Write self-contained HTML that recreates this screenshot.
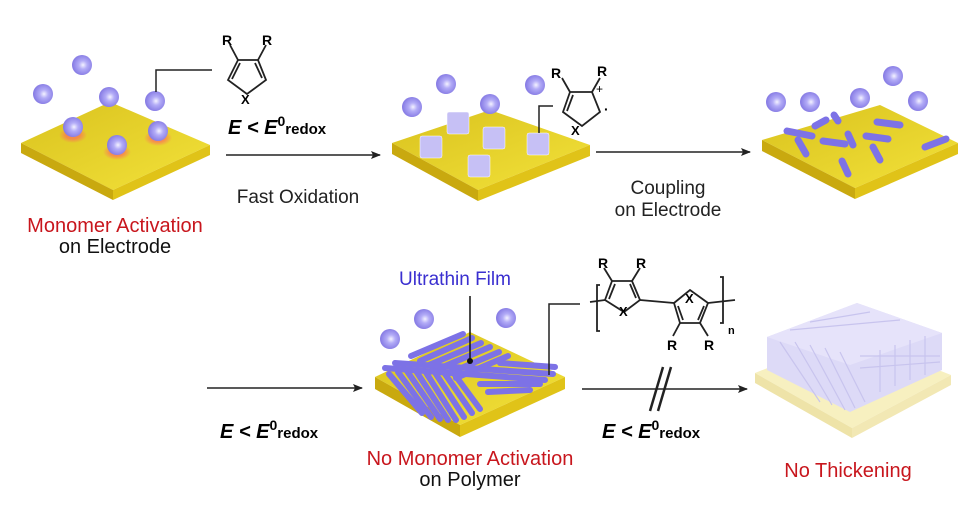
<!DOCTYPE html>
<html><head><meta charset="utf-8"><style>
html,body{margin:0;padding:0;background:#fff;}
svg{display:block;}
text{font-family:"Liberation Sans",Arial,sans-serif;}
.b{font-weight:bold;font-style:italic;}
</style></head><body>
<svg width="974" height="525" viewBox="0 0 974 525" xmlns="http://www.w3.org/2000/svg">
<defs>
<radialGradient id="sp" cx="0.55" cy="0.5" r="0.6">
<stop offset="0" stop-color="#f4f2ff"/><stop offset="0.35" stop-color="#b3acf7"/><stop offset="1" stop-color="#7c70e0"/></radialGradient>
<linearGradient id="gt" x1="0" y1="0" x2="1" y2="1"><stop offset="0" stop-color="#d9c21e"/><stop offset="1" stop-color="#f3e23a"/></linearGradient>
<radialGradient id="glow"><stop offset="0.5" stop-color="#ff6060" stop-opacity="0.6"/><stop offset="1" stop-color="#ff6060" stop-opacity="0"/></radialGradient>
<marker id="ah" markerWidth="10" markerHeight="8" refX="9" refY="4" orient="auto" markerUnits="userSpaceOnUse"><path d="M0,0 L10,4 L0,8 L2,4z" fill="#222"/></marker>
</defs>

<!-- Plate helper: top, left side, right side -->
<!-- Plate 1 -->
<polygon points="21,143 110,102 210,145 113,190" fill="url(#gt)"/>
<polygon points="21,143 113,190 113,200 21,153" fill="#c9a90f"/>
<polygon points="113,190 210,145 210,155 113,200" fill="#e0c318"/>
<ellipse cx="73" cy="135" rx="14" ry="8" fill="url(#glow)"/>
<ellipse cx="117" cy="152" rx="14" ry="8" fill="url(#glow)"/>
<ellipse cx="158" cy="138" rx="14" ry="8" fill="url(#glow)"/>
<circle cx="82" cy="65" r="10" fill="url(#sp)"/>
<circle cx="43" cy="94" r="10" fill="url(#sp)"/>
<circle cx="109" cy="97" r="10" fill="url(#sp)"/>
<circle cx="155" cy="101" r="10" fill="url(#sp)"/>
<circle cx="73" cy="127" r="10" fill="url(#sp)"/>
<circle cx="158" cy="131" r="10" fill="url(#sp)"/>
<circle cx="117" cy="145" r="10" fill="url(#sp)"/>
<polyline points="156,92 156,70 212,70" fill="none" stroke="#222" stroke-width="1.5"/>
<!-- monomer -->
<g stroke="#222" stroke-width="1.8" fill="none">
<path d="M228,80 L238,60 L258,60 L266,80 L247,94 Z"/>
<path d="M232,79 L240,63 M262,78 L255,63"/>
<path d="M238,60 L230,45 M258,60 L266,45"/>
</g>
<text x="222" y="45" font-size="14" font-weight="bold">R</text>
<text x="262" y="45" font-size="14" font-weight="bold">R</text>
<text x="241" y="104" font-size="13" font-weight="bold">X</text>
<text x="228" y="134" font-size="20" class="b">E &lt; E<tspan font-style="normal" dy="-8" font-size="14">0</tspan><tspan dy="8" font-size="15" font-style="normal">redox</tspan></text>
<line x1="226" y1="155" x2="380" y2="155" stroke="#222" stroke-width="1.5" marker-end="url(#ah)"/>
<text x="298" y="203" font-size="19" text-anchor="middle" fill="#222">Fast Oxidation</text>
<text x="115" y="232" font-size="20" text-anchor="middle" fill="#c8161d">Monomer Activation</text>
<text x="115" y="253" font-size="20" text-anchor="middle" fill="#111">on Electrode</text>

<!-- Plate 2 -->
<polygon points="392,143 490,110 590,145 478,190" fill="url(#gt)"/>
<polygon points="392,143 478,190 478,201 392,154" fill="#c9a90f"/>
<polygon points="478,190 590,145 590,156 478,201" fill="#e0c318"/>
<g fill="#c6c0f5" stroke="#fff" stroke-width="0.5">
<rect x="447" y="112" width="22" height="22" rx="2"/>
<rect x="420" y="136" width="22" height="22" rx="2"/>
<rect x="483" y="127" width="22" height="22" rx="2"/>
<rect x="527" y="133" width="22" height="22" rx="2"/>
<rect x="468" y="155" width="22" height="22" rx="2"/>
</g>
<circle cx="446" cy="84" r="10" fill="url(#sp)"/>
<circle cx="412" cy="107" r="10" fill="url(#sp)"/>
<circle cx="490" cy="104" r="10" fill="url(#sp)"/>
<circle cx="535" cy="85" r="10" fill="url(#sp)"/>
<polyline points="539,133 539,106 553,106" fill="none" stroke="#222" stroke-width="1.5"/>
<g stroke="#222" stroke-width="1.8" fill="none">
<path d="M563,112 L570,92 L592,92 L600,112 L582,126 Z"/>
<path d="M567,111 L573,95"/>
<path d="M570,92 L562,78 M592,92 L600,78"/>
</g>
<text x="551" y="78" font-size="14" font-weight="bold">R</text>
<text x="597" y="76" font-size="14" font-weight="bold">R</text>
<text x="596" y="93" font-size="12">+</text>
<text x="604" y="114" font-size="14" font-weight="bold">·</text>
<text x="571" y="135" font-size="13" font-weight="bold">X</text>
<line x1="596" y1="152" x2="750" y2="152" stroke="#222" stroke-width="1.5" marker-end="url(#ah)"/>
<text x="668" y="194" font-size="19" text-anchor="middle" fill="#222">Coupling</text>
<text x="668" y="216" font-size="19" text-anchor="middle" fill="#222">on Electrode</text>

<!-- Plate 3 -->
<polygon points="762,140 880,105 958,143 855,188" fill="url(#gt)"/>
<polygon points="762,140 855,188 855,199 762,151" fill="#c9a90f"/>
<polygon points="855,188 958,143 958,154 855,199" fill="#e0c318"/>
<g stroke="#7d72e6" stroke-width="7" stroke-linecap="round">
<line x1="787" y1="131" x2="812" y2="136"/>
<line x1="798" y1="140" x2="806" y2="154"/>
<line x1="823" y1="141" x2="845" y2="144"/>
<line x1="848" y1="134" x2="853" y2="145"/>
<line x1="815" y1="126" x2="826" y2="120"/>
<line x1="834" y1="115" x2="838" y2="121"/>
<line x1="877" y1="122" x2="900" y2="125"/>
<line x1="866" y1="136" x2="888" y2="139"/>
<line x1="873" y1="147" x2="880" y2="160"/>
<line x1="842" y1="161" x2="848" y2="174"/>
<line x1="925" y1="147" x2="946" y2="139"/>
</g>
<circle cx="810" cy="102" r="10" fill="url(#sp)"/>
<circle cx="776" cy="102" r="10" fill="url(#sp)"/>
<circle cx="860" cy="98" r="10" fill="url(#sp)"/>
<circle cx="893" cy="76" r="10" fill="url(#sp)"/>
<circle cx="918" cy="101" r="10" fill="url(#sp)"/>

<!-- bottom left arrow -->
<line x1="207" y1="388" x2="362" y2="388" stroke="#222" stroke-width="1.5" marker-end="url(#ah)"/>
<text x="220" y="438" font-size="20" class="b">E &lt; E<tspan font-style="normal" dy="-8" font-size="14">0</tspan><tspan dy="8" font-size="15" font-style="normal">redox</tspan></text>

<!-- Plate 4 -->
<polygon points="375,377 470,332 565,377 460,425" fill="url(#gt)"/>
<polygon points="375,377 460,425 460,437 375,389" fill="#c9a90f"/>
<polygon points="460,425 565,377 565,389 460,437" fill="#e0c318"/>
<g stroke="#7d72e6" stroke-width="6" stroke-linecap="round">
<line x1="411" y1="356" x2="463" y2="334"/>
<line x1="420" y1="361" x2="472" y2="338"/>
<line x1="429" y1="365" x2="481" y2="343"/>
<line x1="438" y1="369" x2="490" y2="347"/>
<line x1="447" y1="374" x2="499" y2="352"/>
<line x1="456" y1="378" x2="508" y2="356"/>
<line x1="389" y1="374" x2="422" y2="413"/>
<line x1="398" y1="372" x2="431" y2="417"/>
<line x1="407" y1="371" x2="440" y2="419"/>
<line x1="416" y1="371" x2="448" y2="420"/>
<line x1="425" y1="371" x2="456" y2="420"/>
<line x1="434" y1="371" x2="464" y2="417"/>
<line x1="443" y1="371" x2="472" y2="413"/>
<line x1="452" y1="371" x2="480" y2="409"/>
<line x1="385" y1="368" x2="545" y2="380"/>
<line x1="395" y1="363" x2="553" y2="374"/>
<line x1="500" y1="363" x2="555" y2="367"/>
<line x1="480" y1="384" x2="540" y2="384"/>
<line x1="488" y1="392" x2="530" y2="390"/>
</g>
<line x1="470" y1="296" x2="470" y2="360" stroke="#111" stroke-width="1.5"/>
<circle cx="470" cy="361" r="3" fill="#111"/>
<circle cx="390" cy="339" r="10" fill="url(#sp)"/>
<circle cx="424" cy="319" r="10" fill="url(#sp)"/>
<circle cx="506" cy="318" r="10" fill="url(#sp)"/>
<polyline points="549,375 549,304 580,304" fill="none" stroke="#222" stroke-width="1.5"/>
<text x="455" y="285" font-size="19" text-anchor="middle" fill="#3a2fd0">Ultrathin Film</text>
<text x="470" y="465" font-size="20" text-anchor="middle" fill="#c8161d">No Monomer Activation</text>
<text x="470" y="486" font-size="20" text-anchor="middle" fill="#111">on Polymer</text>

<!-- polymer structure -->
<g stroke="#222" stroke-width="1.8" fill="none">
<path d="M590,302 L605,300"/>
<path d="M605,300 L612,281 L632,281 L640,300 L624,312 Z"/>
<path d="M609,299 L615,284 M636,298 L630,284"/>
<path d="M612,281 L604,268 M632,281 L640,268"/>
<path d="M640,300 L674,303"/>
<path d="M674,303 L690,290 L708,303 L700,323 L680,323 Z"/>
<path d="M678,306 L683,320 M704,306 L698,320"/>
<path d="M680,323 L673,336 M700,323 L708,336"/>
<path d="M708,303 L735,300"/>
<path d="M600,285 L597,285 L597,331 L600,331"/>
<path d="M720,277 L723,277 L723,323 L720,323"/>
</g>
<text x="598" y="268" font-size="14" font-weight="bold">R</text>
<text x="636" y="268" font-size="14" font-weight="bold">R</text>
<text x="619" y="316" font-size="13" font-weight="bold">X</text>
<text x="685" y="303" font-size="13" font-weight="bold">X</text>
<text x="667" y="350" font-size="14" font-weight="bold">R</text>
<text x="704" y="350" font-size="14" font-weight="bold">R</text>
<text x="728" y="334" font-size="11" font-weight="bold">n</text>

<!-- bottom right arrow -->
<line x1="582" y1="389" x2="747" y2="389" stroke="#222" stroke-width="1.5" marker-end="url(#ah)"/>
<line x1="650" y1="411" x2="663" y2="367" stroke="#222" stroke-width="2.5"/>
<line x1="658" y1="411" x2="671" y2="367" stroke="#222" stroke-width="2.5"/>
<text x="602" y="438" font-size="20" class="b">E &lt; E<tspan font-style="normal" dy="-8" font-size="14">0</tspan><tspan dy="8" font-size="15" font-style="normal">redox</tspan></text>

<!-- Plate 5 -->
<polygon points="755,373 850,335 951,375 852,428" fill="#f7f0c0"/>
<polygon points="755,373 852,428 852,438 755,383" fill="#eee3a8"/>
<polygon points="852,428 951,375 951,385 852,438" fill="#f2e8b4"/>
<polygon points="767,337 857,303 942,333 942,370 850,412 767,370" fill="#dddaf7"/>
<polygon points="767,337 857,303 942,333 850,365" fill="#e6e3fa"/>
<g stroke="#c8c4ee" stroke-width="1.2">
<line x1="780" y1="342" x2="820" y2="402"/>
<line x1="795" y1="342" x2="832" y2="405"/>
<line x1="810" y1="345" x2="845" y2="410"/>
<line x1="825" y1="348" x2="855" y2="408"/>
<line x1="840" y1="352" x2="865" y2="402"/>
<line x1="880" y1="350" x2="880" y2="392"/>
<line x1="895" y1="345" x2="895" y2="386"/>
<line x1="910" y1="340" x2="910" y2="380"/>
<line x1="925" y1="336" x2="925" y2="375"/>
<line x1="860" y1="356" x2="940" y2="356"/>
<line x1="860" y1="368" x2="940" y2="362"/>
<line x1="790" y1="330" x2="900" y2="320"/>
<line x1="810" y1="322" x2="870" y2="312"/>
</g>
<text x="848" y="477" font-size="20" text-anchor="middle" fill="#c8161d">No Thickening</text>
</svg>
</body></html>
